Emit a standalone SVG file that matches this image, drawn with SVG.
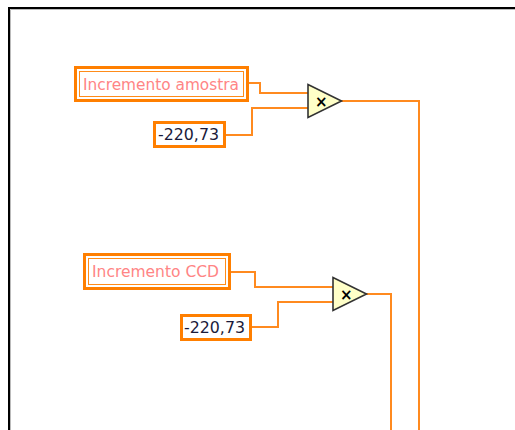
<svg xmlns="http://www.w3.org/2000/svg" width="515" height="430" viewBox="0 0 515 430">
<style>
.wire{fill:none;stroke:#ff8a1f;stroke-width:2}
.ctl{fill:#fff;stroke:#ff7f00;stroke-width:3}
.ctlin{fill:none;stroke:#ff8c1a;stroke-width:1}
.lbl{font-family:"DejaVu Sans",Verdana,sans-serif;font-size:15px;fill:#ff8585}
.num{font-family:"DejaVu Sans",Verdana,sans-serif;font-size:15px;fill:#1a1a3a}
.mul{fill:#ffffc8;stroke:#333;stroke-width:1.6}
.x{font-family:"DejaVu Sans",sans-serif;font-size:15px;font-weight:bold;fill:#000}
</style>
<rect width="515" height="430" fill="#fff"/>
<path d="M9 430 V8 H515" fill="none" stroke="#000" stroke-width="2"/>
<path d="M10.5 430 V9.5 H515" fill="none" stroke="#bbb" stroke-width="1"/>
<g id="connectors">
<path class="wire" d="M249 83 H260 V93 H309"/>
<path class="wire" d="M225 135 H252 V108 H309"/>
<path class="wire" d="M341 101 H419 V430"/>
<path class="wire" d="M230 272 H255 V287 H334"/>
<path class="wire" d="M252 327 H278 V302 H334"/>
<path class="wire" d="M366 294 H391 V430"/>
</g>
<g id="incremento-amostra">
<rect class="ctl" x="75.5" y="67.5" width="172" height="33"/>
<rect class="ctlin" x="79.5" y="71.5" width="164" height="25"/>
<text class="lbl" x="83" y="90" textLength="156" lengthAdjust="spacingAndGlyphs">Incremento amostra</text>
</g>
<g id="const1">
<rect class="ctl" x="154.5" y="122.5" width="70" height="24"/>
<text class="num" x="158" y="140" textLength="61" lengthAdjust="spacingAndGlyphs">-220,73</text>
</g>
<g id="mul1">
<path class="mul" d="M308 84.5 L341.5 101 L308 117.5 Z"/>
<text class="x" x="315" y="106.5">×</text>
</g>
<g id="incremento-ccd">
<rect class="ctl" x="84.5" y="254.5" width="145" height="34"/>
<rect class="ctlin" x="88.5" y="258.5" width="137" height="26"/>
<text class="lbl" x="92" y="277" textLength="127" lengthAdjust="spacingAndGlyphs">Incremento CCD</text>
</g>
<g id="const2">
<rect class="ctl" x="181.5" y="315.5" width="69" height="24"/>
<text class="num" x="184" y="333" textLength="61" lengthAdjust="spacingAndGlyphs">-220,73</text>
</g>
<g id="mul2">
<path class="mul" d="M333 277.5 L366.5 294 L333 310.5 Z"/>
<text class="x" x="340" y="299.5">×</text>
</g>
</svg>
